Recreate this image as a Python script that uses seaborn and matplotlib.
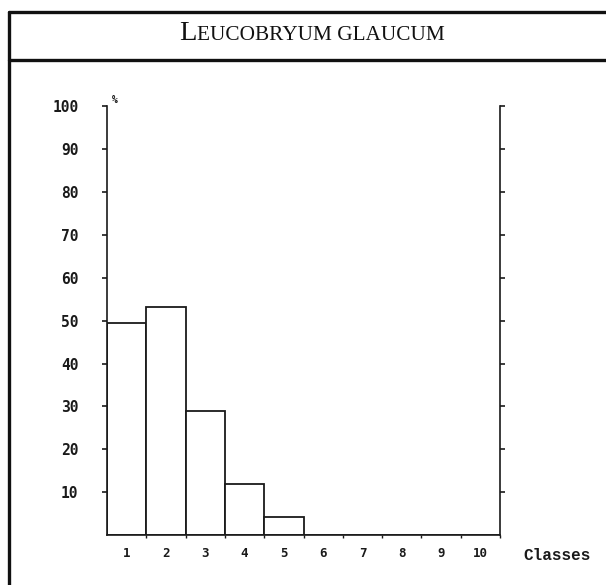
import matplotlib
matplotlib.use("Agg")
import matplotlib.pyplot as plt
from matplotlib.lines import Line2D
from matplotlib.offsetbox import TextArea, HPacker, AnnotationBbox
import seaborn as sns
import pandas as pd

# Frequency distribution of Leucobryum glaucum over size classes
classes = ["1", "2", "3", "4", "5", "6", "7", "8", "9", "10"]
percent = [49.5, 53.3, 29.0, 12.0, 4.2, 0, 0, 0, 0, 0]
y_ticks = [10, 20, 30, 40, 50, 60, 70, 80, 90, 100]

sns.set_theme(style="white")
plt.rcParams["font.family"] = ["DejaVu Sans Mono", "DejaVu Sans"]

df = pd.DataFrame({"classe": classes, "pct": percent})

fig = plt.figure(figsize=(6.06, 5.85), dpi=100)
fig.patch.set_facecolor("white")
ax = fig.add_axes([0.1766, 0.0855, 0.6485, 0.7326])

sns.barplot(data=df, x="classe", y="pct", order=classes, width=1.0,
            color="white", edgecolor="#1a1a1a", linewidth=1.3, ax=ax,
            saturation=1)

ax.set_xlim(-0.5, len(classes) - 0.5)
ax.set_ylim(0, 100)
ax.set_xlabel("")
ax.set_ylabel("")
ax.set_facecolor("white")

for side in ("left", "right", "bottom"):
    ax.spines[side].set_visible(True)
    ax.spines[side].set_color("#1a1a1a")
    ax.spines[side].set_linewidth(1.2)
ax.spines["top"].set_visible(False)

# y ticks on both sides, labels only on the left
ax.set_yticks(y_ticks)
ax.set_yticklabels([str(v) for v in y_ticks], fontweight="bold", fontsize=10.5)
ax.tick_params(axis="y", which="major", left=True, right=True, labelleft=True,
               labelright=False, direction="out", length=3.5, width=1.2,
               color="#1a1a1a", pad=17, labelcolor="#1a1a1a")

# class labels centred, short ticks at class boundaries
ax.set_xticks(range(len(classes)))
ax.set_xticklabels(classes, fontweight="bold", fontsize=9)
ax.set_xticks([i + 0.5 for i in range(len(classes))], minor=True)
ax.tick_params(axis="x", which="major", bottom=True, length=0, pad=9,
               labelcolor="#1a1a1a")
ax.tick_params(axis="x", which="minor", bottom=True, direction="out",
               length=2.5, width=1.0, color="#1a1a1a")

ax.text(0.012, 1.003, "%", transform=ax.transAxes, fontsize=7,
        fontweight="bold", ha="left", va="bottom", color="#1a1a1a")
fig.text(523 / 606, 1 - 555 / 585, "Classes", fontsize=11.5,
         fontweight="bold", ha="left", va="center", color="#1a1a1a",
         family=["Liberation Mono", "DejaVu Sans Mono"])

# Title band with frame
frame_kw = dict(color="#111111", linewidth=2.4, transform=fig.transFigure)
top_y = 1 - 12 / 585
sep_y = 1 - 60 / 585
left_x = 9 / 606
fig.add_artist(Line2D([left_x, 1.0], [top_y, top_y], **frame_kw))
fig.add_artist(Line2D([left_x, 1.0], [sep_y, sep_y], **frame_kw))
fig.add_artist(Line2D([left_x, left_x], [0.0, top_y], **frame_kw))

serif = ["Liberation Serif", "DejaVu Serif"]
big = TextArea("L", textprops=dict(fontsize=20.5, family=serif, color="#111111"))
small = TextArea("EUCOBRYUM GLAUCUM",
                 textprops=dict(fontsize=15.3, family=serif, color="#111111"))
title = HPacker(children=[big, small], align="baseline", pad=0, sep=0)
ab = AnnotationBbox(title, (312 / 606, 1 - 33 / 585), xycoords="figure fraction",
                    frameon=False, box_alignment=(0.5, 0.5))
fig.add_artist(ab)

fig.savefig("out.png", dpi=100, facecolor="white")
